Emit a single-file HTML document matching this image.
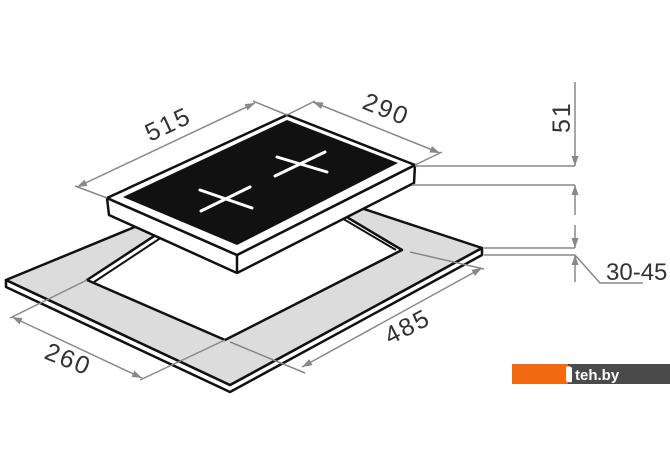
<!DOCTYPE html>
<html><head><meta charset="utf-8"><style>
html,body{margin:0;padding:0;background:#fff;}
svg{display:block;}
text{font-family:"Liberation Sans",sans-serif;fill:#333;letter-spacing:2px;}
</style></head><body>
<svg width="670" height="471" viewBox="0 0 670 471" xmlns="http://www.w3.org/2000/svg">
<!-- countertop -->
<polygon points="6,280 230,385 482,248 482,255 230,392 6,287" fill="#fff" stroke="#111" stroke-width="2.5" stroke-linejoin="round"/>
<polygon points="6,280 261,175 482,248 230,385" fill="#dcdcdc" stroke="#111" stroke-width="2.5" stroke-linejoin="round"/>
<!-- cutout -->
<polygon points="87,280 261,166 402,250 225,340" fill="#fff" stroke="#111" stroke-width="2.5" stroke-linejoin="round"/>
<polyline points="94,282 262,171 396,250" fill="none" stroke="#111" stroke-width="2"/>
<!-- hob -->
<polygon points="107,198 237,255 415,165 414,183 237,273 109,215" fill="#fff" stroke="#111" stroke-width="2.5" stroke-linejoin="round"/>
<line x1="237" y1="255" x2="237" y2="273" stroke="#111" stroke-width="2.5"/>
<polygon points="107,198 287,115 415,165 237,255" fill="#fff" stroke="#111" stroke-width="2.5" stroke-linejoin="round"/>
<polygon points="123,197 287,120 398,163 237,245" fill="#111"/>
<g stroke="#fff" stroke-width="3" stroke-linecap="round">
<line x1="201" y1="211" x2="250" y2="187"/><line x1="200" y1="190" x2="252" y2="208"/>
<line x1="275" y1="176" x2="325" y2="152"/><line x1="277" y1="157" x2="327" y2="172"/>
</g>
<!-- dimensions -->
<g stroke="#888" stroke-width="1.5" fill="none">
<line x1="107" y1="198" x2="75" y2="186"/>
<line x1="287" y1="115" x2="253" y2="101"/>
<line x1="287" y1="115" x2="315" y2="101"/>
<line x1="415" y1="165" x2="442" y2="152"/>
<line x1="77" y1="187" x2="255" y2="103"/>
<line x1="313" y1="102" x2="440" y2="153"/>
<line x1="87" y1="280" x2="10" y2="318"/>
<line x1="225" y1="340" x2="140" y2="380"/>
<line x1="12" y1="317" x2="142" y2="378"/>
<line x1="230" y1="342" x2="305" y2="373"/>
<line x1="410" y1="252" x2="484" y2="269"/>
<line x1="302" y1="367" x2="482" y2="268"/>
<line x1="415" y1="166" x2="575" y2="166"/>
<line x1="412" y1="185" x2="575" y2="185"/>
<line x1="484" y1="248" x2="575" y2="248"/>
<line x1="484" y1="255" x2="575" y2="255"/>
<line x1="575" y1="82" x2="575" y2="166"/>
<line x1="575" y1="215" x2="575" y2="185"/>
<line x1="575" y1="225" x2="575" y2="248"/>
<line x1="575" y1="282" x2="575" y2="255"/>
<polyline points="575,255 600,283 643,283"/>
</g>
<g fill="#888">
<polygon points="255,103 247.5,110.4 244.5,104.1"/>
<polygon points="77,187 87.5,185.9 84.5,179.6"/>
<polygon points="440,153 429.4,152.5 432,146.1"/>
<polygon points="313,102 321,109 323.6,102.5"/>
<polygon points="142,378 131.5,376.9 134.4,370.6"/>
<polygon points="12,317 19.6,324.4 22.5,318.1"/>
<polygon points="482,268 474.9,275.9 471.5,269.7"/>
<polygon points="302,367 312.5,365.3 309.1,359.1"/>
<polygon points="575,166 571.5,156 578.5,156"/>
<polygon points="575,185 571.5,195 578.5,195"/>
<polygon points="575,248 571.5,238 578.5,238"/>
<polygon points="575,255 571.5,265 578.5,265"/>
</g>
<text x="0" y="0" font-size="25" transform="translate(150,142) rotate(-25)">515</text>
<text x="0" y="0" font-size="25" transform="translate(361,108) rotate(22)">290</text>
<text x="0" y="0" font-size="25" transform="translate(43,358) rotate(22)">260</text>
<text x="0" y="0" font-size="25" transform="translate(390,345) rotate(-27)">485</text>
<text x="0" y="0" font-size="25" transform="translate(570,133) rotate(-90)">51</text>
<text x="606" y="280" font-size="24" style="letter-spacing:0">30-45</text>
<!-- logo -->
<rect x="512" y="364" width="56" height="20" fill="#f26a10"/>
<rect x="568" y="364" width="102" height="20" fill="#4a4a4a"/>
<path d="M566,367 q4,-2 6,1 l0,14 q-4,1 -6,-1 z" fill="#fff"/>
<text x="575" y="380" font-size="15" font-weight="bold" style="fill:#fff;letter-spacing:0">teh.by</text>
</svg>
</body></html>
